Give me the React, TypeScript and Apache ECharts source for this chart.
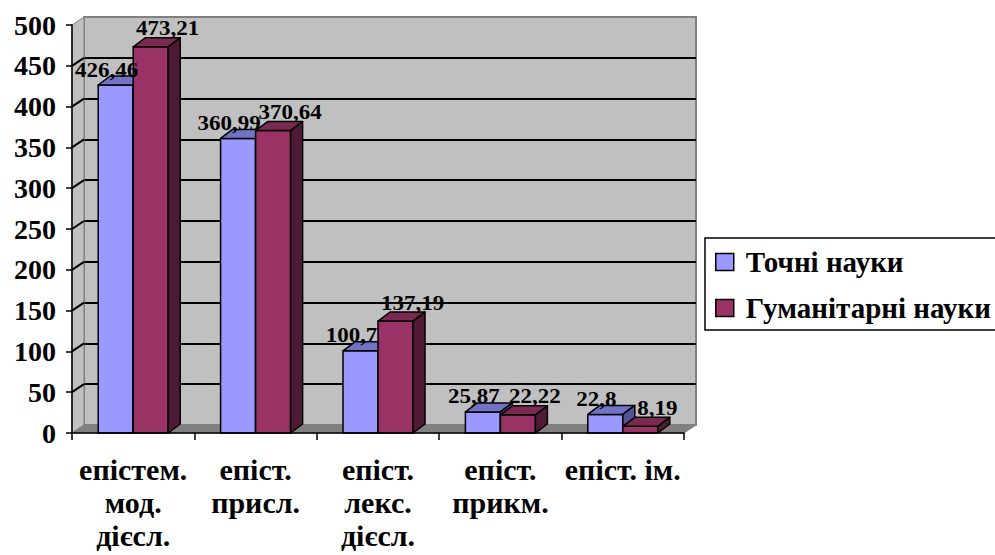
import React, { useEffect, useRef } from "react";
import * as echarts from "echarts";

const CATEGORIES = [
  "епістем.\nмод.\nдієсл.",
  "епіст.\nприсл.",
  "епіст.\nлекс.\nдієсл.",
  "епіст.\nприкм.",
  "епіст. ім.",
];
const SERIES_NAMES = ["Точні науки", "Гуманітарні науки"];
const EXACT = [426.46, 360.99, 100.7, 25.87, 22.8];
const HUMANITIES = [473.21, 370.64, 137.19, 22.22, 8.19];
const Y_MIN = 0;
const Y_MAX = 500;
const Y_STEP = 50;

const FONT = "Liberation Serif";
const GL = 72, GT = 25, GW = 612, GH = 408;
const DX = 12, DY = 8;
const BDX = 12, BDY = 9;
const BAR_RATIO = 0.286;

const FACE = [
  { front: "#9999ff", top: "#7373c6", side: "#525294" },
  { front: "#993366", top: "#7a2950", side: "#4f1a36" },
];

const fmt = (v: number) => String(v).replace(".", ",");

function barRenderer(si: number) {
  return (params: any, api: any) => {
    const cat = api.value(0);
    const v = api.value(1);
    const [cx, yTop] = api.coord([cat, v]);
    const y0 = api.coord([cat, 0])[1];
    const band = api.size([1, 0])[0];
    const w = band * BAR_RATIO;
    const x0 = si === 0 ? cx - w : cx;
    const x1 = x0 + w;
    const c = FACE[si];
    const stroke = { stroke: "#000", lineWidth: 1.5, lineJoin: "round" };
    return {
      type: "group",
      children: [
        {
          type: "rect",
          shape: { x: x0, y: yTop, width: w, height: y0 - yTop },
          style: { fill: c.front, ...stroke },
        },
        {
          type: "polygon",
          shape: { points: [[x0, yTop], [x1, yTop], [x1 + BDX, yTop - BDY], [x0 + BDX, yTop - BDY]] },
          style: { fill: c.top, ...stroke },
        },
        {
          type: "polygon",
          shape: { points: [[x1, yTop], [x1 + BDX, yTop - BDY], [x1 + BDX, y0 - BDY], [x1, y0]] },
          style: { fill: c.side, ...stroke },
        },
      ],
    };
  };
}

function labelRenderer(si: number) {
  return (params: any, api: any) => {
    const cat = api.value(0);
    const v = api.value(1);
    const [cx, yTop] = api.coord([cat, v]);
    const band = api.size([1, 0])[0];
    const w = band * BAR_RATIO;
    const mid = si === 0 ? cx - w / 2 - 9 : cx + w / 2 + 17;
    const dy = si === 0 ? 15 : 18;
    return {
      type: "text",
      x: mid,
      y: yTop - dy,
      scaleX: 1.15,
      style: {
        x: 0,
        y: 0,
        text: fmt(v),
        align: "center",
        verticalAlign: "middle",
        fontFamily: FONT,
        fontWeight: "bold",
        fontSize: 20,
        fill: "#000",
      },
    };
  };
}

export default function App() {
  const ref = useRef<HTMLDivElement>(null);
  useEffect(() => {
    const chart = echarts.init(ref.current!, null, { renderer: "svg" });
    const GB = GT + GH;
    const GR = GL + GW;
    const ticks: number[] = [];
    for (let v = Y_MIN + Y_STEP; v < Y_MAX; v += Y_STEP) ticks.push(v);
    const yPix = (v: number) => GB - (GH * (v - Y_MIN)) / (Y_MAX - Y_MIN);

    const graphic: any[] = [
      {
        type: "polygon",
        z: 1,
        shape: { points: [[GL, GB], [GL, GT], [GL + DX, GT - DY], [GL + DX, GB - DY]] },
        style: { fill: "#c0c0c0", stroke: "#808080", lineWidth: 1 },
      },
      ...ticks.map((v) => ({
        type: "line",
        z: 1,
        shape: { x1: GL, y1: yPix(v), x2: GL + DX, y2: yPix(v) - DY },
        style: { stroke: "#000", lineWidth: 2 },
      })),
      {
        type: "polygon",
        z: 1,
        shape: { points: [[GL, GB], [GR, GB], [GR + DX, GB - DY], [GL + DX, GB - DY]] },
        style: { fill: "#808080", stroke: "#808080", lineWidth: 1 },
      },
      {
        type: "line",
        z: 1,
        shape: { x1: GL + DX, y1: GT - DY, x2: GR + DX, y2: GT - DY },
        style: { stroke: "#808080", lineWidth: 2 },
      },
    ];

    const seriesData = [EXACT, HUMANITIES];
    const series: any[] = [];
    seriesData.forEach((arr, si) => {
      series.push({
        type: "custom",
        name: SERIES_NAMES[si],
        xAxisIndex: 0,
        yAxisIndex: 0,
        clip: false,
        z: 2,
        itemStyle: { color: FACE[si].front, borderColor: "#000", borderWidth: 1.5 },
        data: arr.map((v, i) => [i, v]),
        encode: { x: 0, y: 1 },
        renderItem: barRenderer(si),
      });
    });
    seriesData.forEach((arr, si) => {
      series.push({
        type: "custom",
        name: "labels" + si,
        xAxisIndex: 0,
        yAxisIndex: 0,
        clip: false,
        z: 5,
        data: arr.map((v, i) => [i, v]),
        encode: { x: 0, y: 1 },
        renderItem: labelRenderer(si),
      });
    });

    chart.setOption({
      animation: false,
      backgroundColor: "#ffffff",
      textStyle: { fontFamily: FONT },
      graphic,
      grid: [
        { left: GL, top: GT, width: GW, height: GH, show: false },
        {
          left: GL + DX,
          top: GT - DY,
          width: GW,
          height: GH,
          show: true,
          backgroundColor: "#c0c0c0",
          borderColor: "#808080",
          borderWidth: 2,
        },
      ],
      xAxis: [
        {
          type: "category",
          gridIndex: 0,
          data: CATEGORIES,
          z: 3,
          axisLine: { show: true, lineStyle: { color: "#000", width: 1.5 } },
          axisTick: { show: true, interval: 0, length: 7, lineStyle: { color: "#000", width: 1.5 } },
          axisLabel: {
            interval: 0,
            margin: 20,
            color: "#000",
            fontFamily: FONT,
            fontWeight: "bold",
            fontSize: 30,
            lineHeight: 33,
          },
          splitLine: { show: false },
        },
        { type: "value", gridIndex: 1, show: false, min: 0, max: 1 },
      ],
      yAxis: [
        {
          type: "value",
          gridIndex: 0,
          min: Y_MIN,
          max: Y_MAX,
          interval: Y_STEP,
          z: 3,
          axisLine: { show: true, lineStyle: { color: "#000", width: 1.5 } },
          axisTick: { show: true, length: 6, lineStyle: { color: "#000", width: 1.5 } },
          axisLabel: {
            margin: 16,
            color: "#000",
            fontFamily: FONT,
            fontWeight: "bold",
            fontSize: 28,
          },
          splitLine: { show: false },
        },
        {
          type: "value",
          gridIndex: 1,
          min: Y_MIN,
          max: Y_MAX,
          interval: Y_STEP,
          axisLine: { show: false },
          axisTick: { show: false },
          axisLabel: { show: false },
          splitLine: {
            show: true,
            showMinLine: false,
            showMaxLine: false,
            lineStyle: { color: "#000", width: 2 },
          },
        },
      ],
      legend: {
        data: SERIES_NAMES,
        orient: "vertical",
        left: 705,
        top: 238,
        padding: [9, 10, 7, 10],
        itemGap: 16,
        itemWidth: 18,
        itemHeight: 17,
        icon: "rect",
        backgroundColor: "#ffffff",
        borderColor: "#000",
        borderWidth: 1.5,
        borderRadius: 0,
        itemStyle: { borderColor: "#000", borderWidth: 1.5 },
        textStyle: {
          color: "#000",
          fontFamily: FONT,
          fontWeight: "bold",
          fontSize: 29,
          lineHeight: 30,
          padding: [0, 0, 0, 7],
        },
      },
      series,
    });
    return () => chart.dispose();
  }, []);
  return (
    <div
      ref={ref}
      style={{ position: "absolute", left: 0, top: 0, width: 995, height: 555 }}
    />
  );
}
